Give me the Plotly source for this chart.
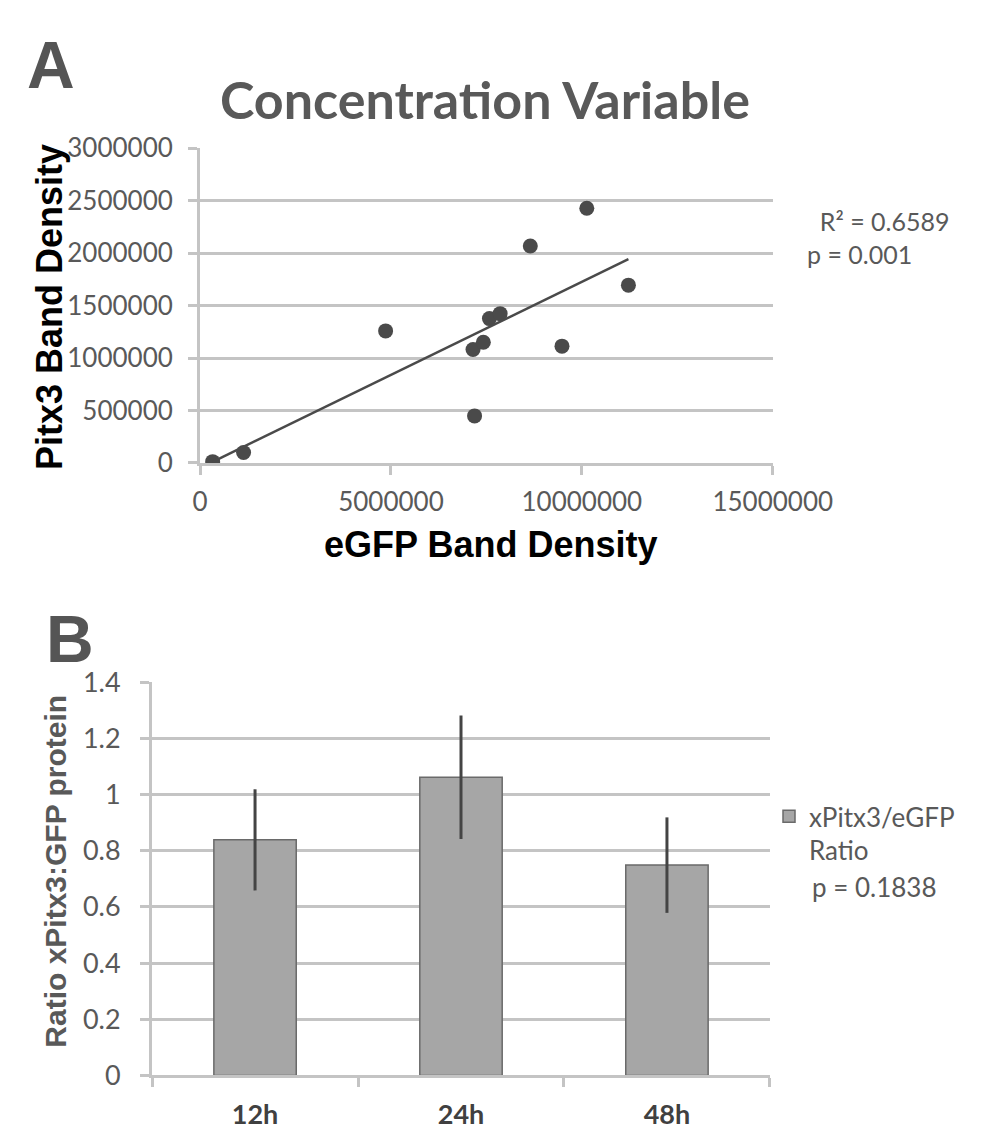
import numpy as np
import plotly.graph_objects as go

# ---------------- data ----------------
egfp_density = [330000, 1140000, 4860000, 7150000, 7420000, 7190000, 7580000, 7860000, 8650000, 9480000, 10130000, 11220000]
pitx3_density = [12000, 99000, 1259000, 1082000, 1150000, 448000, 1376000, 1423000, 2069000, 1113000, 2428000, 1695000]

timepoints = ["12h", "24h", "48h"]
ratio_mean = [0.839, 1.062, 0.749]
ratio_err = [0.18, 0.22, 0.17]

x_ticks_a = [0, 5000000, 10000000, 15000000]
r2_text = "R² = 0.6589"
p_text_a = "p = 0.001"
p_text_b = "p = 0.1838"

# ---------------- helpers ----------------
W, H = 999, 1132
def px(x):
    return x / W
def py(y):
    return 1 - y / H

GRID = "#c4c4c4"
TXT = "#595959"
DARK = "#4a4a4a"

# linear trend line (least squares) over data range
slope, intercept = np.polyfit(egfp_density, pitx3_density, 1)
tx = [min(egfp_density), max(egfp_density)]
ty = [slope * v + intercept for v in tx]

fig = go.Figure()

fig.add_trace(go.Scatter(
    x=egfp_density, y=pitx3_density, mode="markers",
    marker=dict(size=15, color=DARK), showlegend=False,
    xaxis="x", yaxis="y"))
fig.add_trace(go.Scatter(
    x=tx, y=ty, mode="lines", line=dict(color=DARK, width=2.5),
    showlegend=False, xaxis="x", yaxis="y"))

fig.add_trace(go.Bar(
    x=timepoints, y=ratio_mean, name="xPitx3/eGFP<br>Ratio",
    marker=dict(color="#a6a6a6", line=dict(color="#6a6a6a", width=1.5)),
    error_y=dict(type="data", array=ratio_err, visible=True,
                 color="#444444", thickness=3, width=0),
    xaxis="x2", yaxis="y2", showlegend=True))

tickfont = dict(family="Lato", size=26, color=TXT)

fig.update_layout(
    width=W, height=H,
    margin=dict(l=0, r=0, t=0, b=0),
    paper_bgcolor="white", plot_bgcolor="white",
    bargap=0.6,
    xaxis=dict(
        domain=[px(197.5), px(812)], anchor="y",
        range=[0, 15000000], tickvals=x_ticks_a, tickformat="d",
        showgrid=False, zeroline=False,
        showline=True, linecolor=GRID, linewidth=3,
        ticks="outside", ticklen=9, tickwidth=3, tickcolor=GRID,
        tickfont=tickfont, ticklabelstandoff=5),
    yaxis=dict(
        domain=[py(450), py(126)], anchor="x",
        range=[0, 3000000], dtick=500000, tickformat="d",
        showgrid=True, gridcolor=GRID, gridwidth=3, zeroline=False,
        showline=True, linecolor=GRID, linewidth=3,
        ticks="outside", ticklen=9, tickwidth=3, tickcolor=GRID,
        tickfont=tickfont, ticklabelstandoff=10),
    xaxis2=dict(
        domain=[px(146), px(809)], anchor="y2",
        type="category", range=[-0.5, 2.5], tickson="boundaries",
        showgrid=False, zeroline=False,
        showline=True, linecolor=GRID, linewidth=3,
        ticks="outside", ticklen=9, tickwidth=3, tickcolor=GRID,
        tickfont=dict(family="Lato", size=27, color="#404040", weight="bold"),
        ticklabelstandoff=13),
    yaxis2=dict(
        domain=[py(1081), py(676)], anchor="x2",
        range=[0, 1.4], dtick=0.2, tickformat="",
        showgrid=True, gridcolor=GRID, gridwidth=3, zeroline=False,
        showline=True, linecolor=GRID, linewidth=3,
        ticks="outside", ticklen=9, tickwidth=3, tickcolor=GRID,
        tickfont=dict(family="Lato", size=27, color=TXT),
        ticklabelstandoff=14),
    legend=dict(
        x=px(808), y=py(790), xanchor="left", yanchor="top",
        font=dict(family="Lato", size=26, color=TXT),
        valign="top", bgcolor="rgba(0,0,0,0)", borderwidth=0),
)

ann = [
    dict(text="A", x=px(10), y=py(40), xanchor="left", yanchor="middle",
         font=dict(family="Liberation Sans", size=66, color="#555555", weight="bold")),
    dict(text="Concentration Variable", x=px(503), y=py(75), xanchor="center", yanchor="middle",
         font=dict(family="Lato", size=52, color=TXT, weight="bold")),
    dict(text="Pitx3 Band Density", x=px(36), y=py(290), xanchor="center", yanchor="middle",
         textangle=-90,
         font=dict(family="Liberation Sans", size=36, color="black", weight="bold")),
    dict(text="eGFP Band Density", x=px(509), y=py(534), xanchor="center", yanchor="middle",
         font=dict(family="Liberation Sans", size=36, color="black", weight="bold")),
    dict(text="\u00a0\u00a0" + r2_text + "<br>" + p_text_a, x=px(847), y=py(218),
         xanchor="left", yanchor="middle", align="left",
         font=dict(family="Lato", size=25, color=TXT)),
    dict(text="B", x=px(30), y=py(631), xanchor="left", yanchor="middle",
         font=dict(family="Liberation Sans", size=66, color="#555555", weight="bold")),
    dict(text="Ratio xPitx3:GFP protein", x=px(43), y=py(871), xanchor="center", yanchor="middle",
         textangle=-90,
         font=dict(family="Liberation Sans", size=30, color=TXT, weight="bold")),
    dict(text=p_text_b, x=px(852), y=py(887), xanchor="left", yanchor="middle",
         font=dict(family="Lato", size=26, color=TXT)),
]
for a in ann:
    a.update(xref="paper", yref="paper", showarrow=False)
fig.update_layout(annotations=ann)

fig.write_html("out.html")
